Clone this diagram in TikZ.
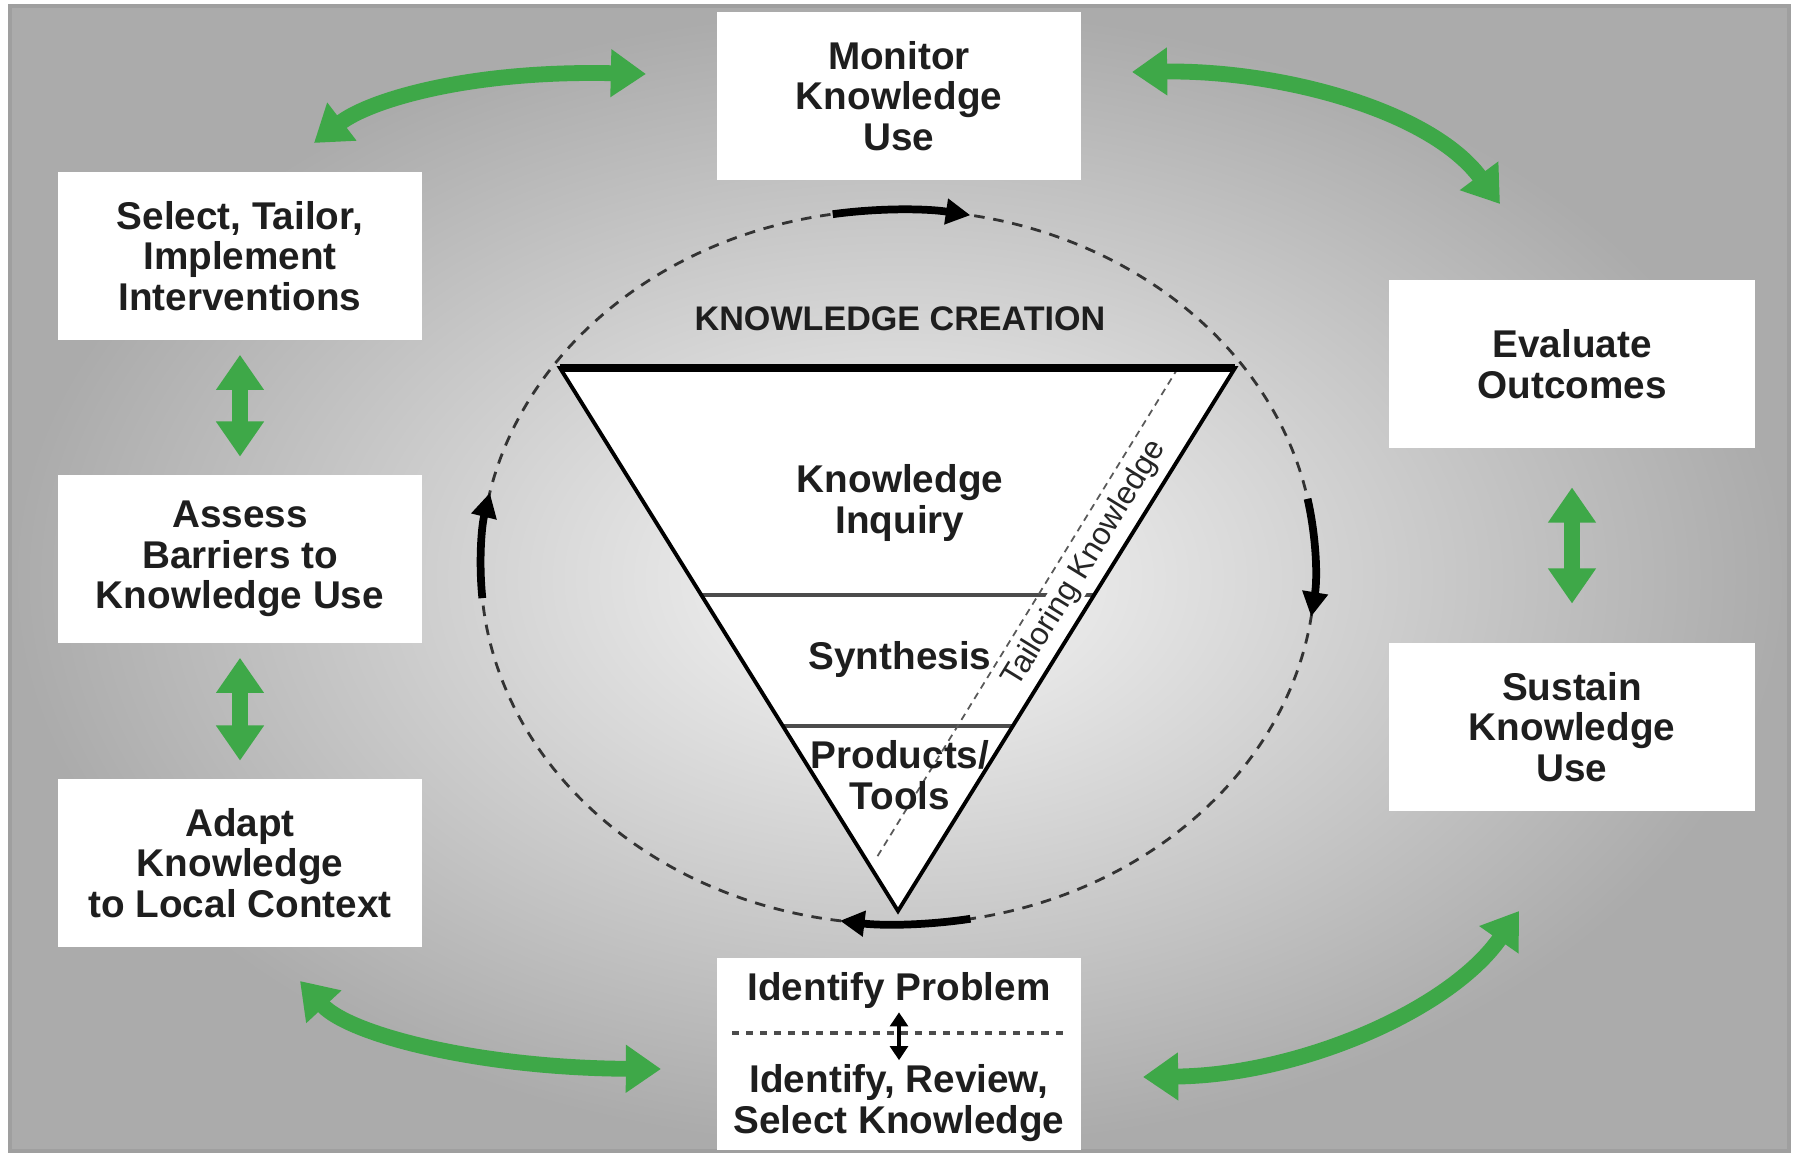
\documentclass[tikz,border=0pt]{standalone}
\usepackage{fontspec}
\setmainfont{Liberation Sans}
\usepackage{tikz}
\usetikzlibrary{arrows.meta}
\usetikzlibrary{calc}
\definecolor{kgreen}{RGB}{62,168,72}
\definecolor{ktext}{RGB}{30,30,30}

\begin{document}
\begin{tikzpicture}
	[x=0.01cm, y=0.01cm,
	stage/.style={fill=white, minimum width=3.64cm, minimum height=1.68cm, align=center, text=ktext, font=\fontsize{11}{11.6}\selectfont\bfseries},
	txt/.style={align=center, text=ktext, font=\fontsize{11}{11.6}\selectfont\bfseries, inner sep=1pt},
	garrow/.style={line width=4.5pt, kgreen, {Triangle[width=13pt,length=10pt]}-{Triangle[width=13pt,length=10pt]}},
	karrow/.style={line width=2.2pt, -{Triangle[width=7pt,length=7pt]}}]
	\useasboundingbox (0,0) rectangle (1793,1154);
	\shade[inner color=gray!6, outer color=gray!66] (10,3) rectangle (1789,1148);
	\draw[gray!75, line width=1.2pt] (10,3) rectangle (1789,1148);

	\node[stage] (monitor) at (899,1058) {Monitor\\Knowledge\\Use};
	\node[stage] (select) at (240,898) {Select, Tailor,\\Implement\\Interventions};
	\node[stage] (assess) at (240,595) {Assess\\Barriers to\\Knowledge Use};
	\node[stage] (adapt) at (240,291) {Adapt\\Knowledge\\to Local Context};
	\node[stage, minimum width=3.66cm] (evaluate) at (1572,790) {Evaluate\\Outcomes};
	\node[stage, minimum width=3.66cm] (sustain) at (1572,427) {Sustain\\Knowledge\\Use};
	\node[stage, minimum height=1.91cm] (identify) at (899,100) {};
	\node[txt] (problem) at (899,164) {Identify Problem};
	\node[txt] (review) at (899,51) {Identify, Review,\\Select Knowledge};
	\draw[gray!60!black, line width=1pt, dash pattern=on 2pt off 2pt] (732,121) -- (1069,121);
	\draw[line width=1.3pt, {Triangle[width=5pt,length=4pt]}-{Triangle[width=5pt,length=4pt]}] (problem) -- (review);

	\coordinate (kc) at (898,587);
	\draw[gray!40!black, line width=0.8pt, dash pattern=on 3pt off 2.5pt] (kc) ellipse [x radius=4.17cm, y radius=3.57cm];

	\coordinate (tl) at (560,786);
	\coordinate (tr) at (1235,786);
	\coordinate (tb) at (898,243);
	\coordinate (t1) at (1178,786);
	\coordinate (t2) at (877,297);
	\fill[white] (tl) -- (tr) -- (tb) -- cycle;
	\draw[gray!60!black, line width=1pt] ($(tl)!0.418!(tb)$) -- ($(tr)!0.418!(tb)$);
	\draw[gray!60!black, line width=1pt] ($(tl)!0.659!(tb)$) -- ($(tr)!0.659!(tb)$);
	\draw[gray!70!black, line width=0.5pt, dash pattern=on 2pt off 1.5pt] (t1) -- (t2);
	\node[rotate=58.4, fill=white, inner sep=0.5pt, text=gray!30!black, font=\fontsize{9}{9}\selectfont] (tailor) at (1085,590) {Tailoring Knowledge};
	\draw[line width=1.1pt, line join=miter] (tl) -- (tr) -- (tb) -- cycle;
	\draw[line width=2pt] (tl) -- (tr);

	\node[txt, font=\fontsize{9.7}{10}\selectfont\bfseries] (creation) at (900,835) {KNOWLEDGE CREATION};
	\node[txt] (inquiry) at (900,651) {Knowledge\\Inquiry};
	\node[txt] (synthesis) at (900,494) {Synthesis};
	\node[txt] (products) at (900,379) {Products/\\Tools};

	\draw[karrow] ($(kc)+(99:4.17cm and 3.57cm)$) arc[start angle=99, end angle=80, x radius=4.17cm, y radius=3.57cm];
	\draw[karrow] ($(kc)+(11:4.17cm and 3.57cm)$) arc[start angle=11, end angle=-8, x radius=4.17cm, y radius=3.57cm];
	\draw[karrow] ($(kc)+(280:4.17cm and 3.57cm)$) arc[start angle=280, end angle=262, x radius=4.17cm, y radius=3.57cm];
	\draw[karrow] ($(kc)+(185:4.17cm and 3.57cm)$) arc[start angle=185, end angle=168, x radius=4.17cm, y radius=3.57cm];

	\coordinate (a1) at (646,1080);
	\coordinate (a2) at (314,1011);
	\coordinate (b1) at (1132,1082);
	\coordinate (b2) at (1500,950);
	\coordinate (c1) at (300,173);
	\coordinate (c2) at (661,85);
	\coordinate (d1) at (1143,77);
	\coordinate (d2) at (1519,243);
	\draw[garrow] (a1) .. controls (470,1084) and (370,1054) .. (a2);
	\draw[garrow] (b1) .. controls (1280,1084) and (1430,1044) .. (b2);
	\draw[garrow] (c1) .. controls (350,119) and (480,86) .. (c2);
	\draw[garrow] (d1) .. controls (1300,79) and (1450,144) .. (d2);
	\draw[garrow, shorten <=4pt, shorten >=5pt] (select) -- (assess);
	\draw[garrow, shorten <=4pt, shorten >=5pt] (assess) -- (adapt);
	\draw[garrow, shorten <=11pt, shorten >=11pt] (evaluate) -- (sustain);
\end{tikzpicture}
\end{document}
